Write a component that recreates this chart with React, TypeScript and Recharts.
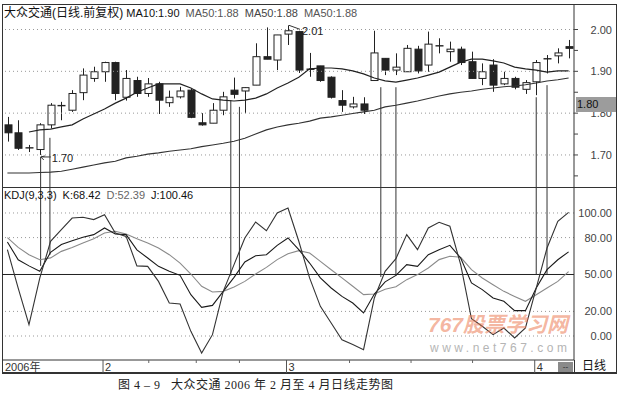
import React from 'react';
import { ComposedChart, Bar, Line, XAxis, YAxis, ReferenceLine, ReferenceDot } from 'recharts';

// trading days shown (Jan 13 – Apr 6, 2006)
const dates = [
  '2006-01-13', '2006-01-16', '2006-01-17', '2006-01-18', '2006-01-19', '2006-01-20', '2006-01-23', '2006-01-24', '2006-01-25',
  '2006-02-06', '2006-02-07', '2006-02-08', '2006-02-09', '2006-02-10', '2006-02-13', '2006-02-14', '2006-02-15', '2006-02-16',
  '2006-02-17', '2006-02-20', '2006-02-21', '2006-02-22', '2006-02-23', '2006-02-24', '2006-02-27', '2006-02-28',
  '2006-03-01', '2006-03-02', '2006-03-03', '2006-03-06', '2006-03-07', '2006-03-08', '2006-03-09', '2006-03-10', '2006-03-13',
  '2006-03-14', '2006-03-15', '2006-03-16', '2006-03-17', '2006-03-20', '2006-03-21', '2006-03-22', '2006-03-23', '2006-03-24',
  '2006-03-27', '2006-03-28', '2006-03-29', '2006-03-30', '2006-03-31',
  '2006-04-03', '2006-04-04', '2006-04-05', '2006-04-06',
];

const opens = [
  1.772, 1.753, 1.716, 1.713, 1.772, 1.817, 1.807, 1.849, 1.883, 1.899, 1.921, 1.838, 1.878, 1.847, 1.870, 1.825, 1.839, 1.855,
  1.777, 1.776, 1.807, 1.855, 1.853, 1.867, 1.935, 1.927, 1.989, 1.995, 1.904, 1.913, 1.886, 1.830, 1.815, 1.822, 1.878, 1.931,
  1.903, 1.899, 1.953, 1.915, 1.960, 1.947, 1.953, 1.923, 1.883, 1.915, 1.870, 1.883, 1.857, 1.875, 1.928, 1.937, 1.959,
];
const highs = [
  1.791, 1.783, 1.724, 1.776, 1.824, 1.827, 1.855, 1.907, 1.911, 1.923, 1.923, 1.903, 1.887, 1.884, 1.875, 1.854, 1.863, 1.859,
  1.800, 1.824, 1.851, 1.885, 1.862, 1.967, 2.005, 1.987, 2.010, 1.997, 1.944, 1.913, 1.888, 1.855, 1.839, 1.838, 1.997, 1.931,
  1.943, 1.963, 1.961, 1.995, 1.979, 1.971, 1.959, 1.947, 1.919, 1.929, 1.899, 1.887, 1.879, 1.927, 1.939, 1.955, 1.975,
];
const lows = [
  1.732, 1.712, 1.707, 1.700, 1.764, 1.783, 1.803, 1.831, 1.875, 1.875, 1.831, 1.830, 1.839, 1.839, 1.798, 1.815, 1.835, 1.788,
  1.770, 1.776, 1.795, 1.835, 1.800, 1.867, 1.929, 1.903, 1.963, 1.896, 1.887, 1.875, 1.835, 1.803, 1.811, 1.798, 1.878, 1.891,
  1.891, 1.899, 1.895, 1.899, 1.943, 1.923, 1.915, 1.883, 1.867, 1.851, 1.867, 1.857, 1.846, 1.843, 1.895, 1.919, 1.931,
];
const closes = [
  1.753, 1.716, 1.717, 1.772, 1.819, 1.818, 1.847, 1.891, 1.899, 1.921, 1.847, 1.883, 1.847, 1.870, 1.831, 1.838, 1.853, 1.790,
  1.772, 1.807, 1.839, 1.845, 1.861, 1.935, 1.929, 1.987, 1.997, 1.903, 1.905, 1.878, 1.838, 1.819, 1.822, 1.807, 1.944, 1.903,
  1.910, 1.955, 1.901, 1.965, 1.961, 1.953, 1.921, 1.883, 1.899, 1.867, 1.883, 1.862, 1.873, 1.921, 1.930, 1.944, 1.955,
];
const ma10 = [
  null, null, 1.755, 1.760, 1.762, 1.767, 1.772, 1.786, 1.798, 1.810, 1.824, 1.836, 1.850, 1.860, 1.870, 1.870, 1.870, 1.860,
  1.846, 1.834, 1.831, 1.829, 1.831, 1.836, 1.846, 1.860, 1.872, 1.886, 1.906, 1.908, 1.908, 1.906, 1.901, 1.894, 1.884, 1.877,
  1.874, 1.879, 1.884, 1.891, 1.898, 1.910, 1.922, 1.929, 1.929, 1.925, 1.920, 1.910, 1.906, 1.903, 1.898, 1.901, 1.901,
];
const ma50 = [
  1.657, 1.657, 1.657, 1.658, 1.659, 1.661, 1.666, 1.671, 1.676, 1.681, 1.685, 1.693, 1.697, 1.702, 1.705, 1.709, 1.712, 1.715,
  1.720, 1.724, 1.728, 1.733, 1.740, 1.750, 1.760, 1.767, 1.772, 1.776, 1.781, 1.788, 1.791, 1.795, 1.799, 1.803, 1.807, 1.815,
  1.819, 1.824, 1.829, 1.835, 1.841, 1.846, 1.850, 1.853, 1.857, 1.860, 1.863, 1.865, 1.868, 1.872, 1.877, 1.880, 1.884,
];

const kLine = [
  76.4, 62, 57, 52.6, 68, 74.3, 77.5, 80.2, 82.4, 87.8, 82.9, 82.4, 70, 63.4, 56.6, 52.6, 49.3, 33.6,
  23.3, 24.9, 36.3, 47.7, 60.2, 65.3, 66.1, 73.7, 79.7, 70.2, 59.3, 47.2, 39, 32.2, 26.8, 18.7, 34.1, 44,
  49.3, 58, 56.6, 66.1, 70.2, 73.7, 63.4, 43.1, 37.7, 30.9, 28.2, 20.6, 20.6, 39, 53.9, 62, 68.42,
];
const dLine = [
  80, 72, 66, 62, 63.5, 68.8, 72, 75.6, 79.1, 83.7, 85.1, 82.9, 79, 75.6, 71.5, 66.1, 59.3, 50.4,
  40.4, 35.8, 36.3, 39.8, 44.4, 50.4, 55.8, 62.1, 66.9, 69.4, 67.5, 60.7, 53.9, 47.2, 40.4, 33.6, 34.1, 38,
  40.1, 45.8, 49.9, 55.3, 62.1, 64.8, 64, 53.9, 47.2, 41.7, 36.3, 32.2, 28.2, 33.6, 39, 44.4, 52.39,
];
const jLine = [
  70.2, 39, 9.2, 47, 77, 86.4, 95.9, 96.5, 94.6, 98.6, 83.7, 81, 57, 56.6, 44.4, 26.8, 26, 3.8,
  -13.8, 1.1, 36.3, 58, 79.7, 92.7, 85.6, 100, 104, 77, 47.2, 24.1, 10.6, -3, -7, -11.1, 30.9, 52.6,
  62.9, 82.4, 70.2, 87.8, 92.4, 89.2, 58, 14, 7.9, 1.1, 6.5, -1.6, 6.5, 39, 71.5, 93.2, 100.46,
];

// hand-drawn cross marks (index position, price where the line starts, KDJ value where it ends)
const crossAt = [3.08, 3.94, 20.7, 21.5, 34.6, 36.0, 49.0, 50.0];
const crossPrice = [1.695, 1.741, 1.831, 1.815, 1.862, 1.862, 1.838, 1.867];
const crossKdj = [57, 66, 49, 50, 48, 49, 50, 50];

const priceTicks = [1.65, 1.7, 1.75, 1.8, 1.85, 1.9, 1.95, 2.0];
const priceGrid = [1.7, 1.8, 1.9, 2.0];
const kdjTicks = [0, 20, 50, 80, 100];
const kdjGrid = [0, 20, 80, 100];
const minorDateTicks = [13.1, 17.5, 21.5, 31.7, 37.4, 43.1];

const PRICE_MIN = 1.6234;
const PRICE_MAX = 2.0586;
const KDJ_MIN = -19.5;
const KDJ_MAX = 120.3;
const CHART_W = 613;
const AXIS_W = 41;
const PLOT_W = CHART_W - AXIS_W;

const FONT = '"Liberation Sans", Arial, "Noto Sans CJK SC", sans-serif';

const priceData = dates.map((date, i) => ({
  i, date,
  open: opens[i], high: highs[i], low: lows[i], close: closes[i],
  range: [lows[i], highs[i]],
  ma10: ma10[i], ma50: ma50[i],
}));

const kdjData = dates.map((date, i) => ({ i, date, k: kLine[i], d: dLine[i], j: jLine[i] }));

// month starts for the date strip
const monthStarts = dates.map((d, i) => i).filter(i => i === 0 || dates[i].slice(5, 7) !== dates[i - 1].slice(5, 7));
const monthLabel = (i: number) => i === 0 ? '2006年' : String(Number(dates[i].slice(5, 7)));

const Candle = (props: any) => {
  const { x, y, width, height, payload } = props;
  if (payload == null || height == null) return null;
  const { open, close, high, low } = payload;
  const top = Math.min(y, y + height);
  const h = Math.abs(height);
  const py = (v: number) => top + ((high - v) / (high - low)) * h;
  const cx = Math.round(x + width / 2) + 0.5;
  const bTop = py(Math.max(open, close));
  const bBot = py(Math.min(open, close));
  const bw = 7;
  const up = close >= open;
  return (
    <g>
      <line x1={cx} x2={cx} y1={top} y2={top + h} stroke="#222" strokeWidth={1} />
      {bBot - bTop < 1.5 ? (
        <line x1={cx - bw / 2 - 0.5} x2={cx + bw / 2 + 0.5} y1={bTop} y2={bTop} stroke="#222" strokeWidth={1.4} />
      ) : (
        <rect x={cx - bw / 2} y={bTop} width={bw} height={bBot - bTop} fill={up ? '#fff' : '#222'} stroke="#222" strokeWidth={1} />
      )}
    </g>
  );
};

const PriceTick = (props: any) => {
  const { y, payload } = props;
  const v = payload.value;
  const major = Math.abs(v * 10 - Math.round(v * 10)) < 1e-6;
  return (
    <g>
      <line x1={PLOT_W} x2={PLOT_W + 4} y1={y} y2={y} stroke="#444" />
      {major && (
        <text x={PLOT_W + 38} y={y + 4} textAnchor="end" fontSize={11} fill="#444" fontFamily={FONT}>{v.toFixed(2)}</text>
      )}
    </g>
  );
};

const KdjTick = (props: any) => {
  const { y, payload } = props;
  return (
    <text x={PLOT_W + 38} y={y + 4} textAnchor="end" fontSize={11} fill="#444" fontFamily={FONT}>{payload.value.toFixed(2)}</text>
  );
};

const DateTick = (props: any) => {
  const { x, payload } = props;
  const v = payload.value;
  const base = 172;
  if (!monthStarts.includes(v)) {
    return <line x1={x} x2={x} y1={base} y2={base + 3} stroke="#666" />;
  }
  if (v === 0) {
    return <text x={3} y={base + 11} fontSize={11} fill="#333" fontFamily={FONT}>{monthLabel(v)}</text>;
  }
  return (
    <g>
      <line x1={x - 1.5} x2={x - 1.5} y1={base} y2={base + 13} stroke="#555" />
      <text x={x + 0.5} y={base + 11} fontSize={11} fill="#333" fontFamily={FONT}>{monthLabel(v)}</text>
    </g>
  );
};

const HighMark = (props: any) => {
  const { cx, cy } = props;
  return (
    <g>
      <line x1={cx + 1} y1={cy} x2={cx + 12} y2={cy + 4} stroke="#333" />
      <text x={cx + 14} y={cy + 10} fontSize={11} fill="#222" fontFamily={FONT}>2.01</text>
    </g>
  );
};

const LowMark = (props: any) => {
  const { cx, cy } = props;
  return (
    <g>
      <path d={`M${cx + 1},${cy + 2} L${cx + 5},${cy + 1} M${cx + 1},${cy + 2} L${cx + 4},${cy + 5} M${cx + 1},${cy + 2} L${cx + 11},${cy + 2}`} stroke="#333" fill="none" />
      <text x={cx + 12} y={cy + 7} fontSize={11} fill="#222" fontFamily={FONT}>1.70</text>
    </g>
  );
};

const App: React.FC = () => {
  return (
    <div style={{ position: 'absolute', left: 0, top: 0, width: 620, height: 412, background: '#fff', fontFamily: FONT }}>
      {/* outer frame */}
      <div style={{ position: 'absolute', left: 2, top: 4, width: 615, height: 370, border: '1px solid #333', borderBottom: '2px solid #333', boxSizing: 'border-box' }} />
      <div style={{ position: 'absolute', left: 2, top: 187, width: 615, height: 1, background: '#333' }} />

      <div style={{ position: 'absolute', left: 2, top: 5 }}>
        <ComposedChart width={CHART_W} height={182} data={priceData} margin={{ top: 0, right: 0, bottom: 0, left: 0 }}>
          <XAxis xAxisId="cat" dataKey="date" type="category" hide />
          <XAxis xAxisId="num" dataKey="i" type="number" domain={[-0.5, 52.5]} hide allowDataOverflow />
          <YAxis
            orientation="right" width={AXIS_W} domain={[PRICE_MIN, PRICE_MAX]} ticks={priceTicks} interval={0}
            tick={PriceTick} tickLine={false} axisLine={{ stroke: '#333' }} allowDataOverflow
          />
          {priceGrid.map(v => (
            <ReferenceLine key={v} xAxisId="num" y={v} stroke="#999" strokeDasharray="1 3" />
          ))}
          {crossAt.map((x, n) => (
            <ReferenceLine key={'c' + n} xAxisId="num" segment={[{ x, y: crossPrice[n] }, { x, y: PRICE_MIN }]} stroke="#333" />
          ))}
          <Bar xAxisId="cat" dataKey="range" barSize={7} isAnimationActive={false} shape={(p: any) => <Candle {...p} />} />
          <Line xAxisId="num" dataKey="ma10" stroke="#222" strokeWidth={1.2} dot={false} isAnimationActive={false} />
          <Line xAxisId="num" dataKey="ma50" stroke="#333" strokeWidth={1.1} dot={false} isAnimationActive={false} />
          <ReferenceDot xAxisId="num" x={26} y={2.01} r={1} fill="none" stroke="none" shape={(p: any) => <HighMark {...p} />} />
          <ReferenceDot xAxisId="num" x={3} y={1.70} r={1} fill="none" stroke="none" shape={(p: any) => <LowMark {...p} />} />
        </ComposedChart>
      </div>

      <div style={{ position: 'absolute', left: 2, top: 188 }}>
        <ComposedChart width={CHART_W} height={185} data={kdjData} margin={{ top: 0, right: 0, bottom: 0, left: 0 }}>
          <XAxis
            dataKey="i" type="number" domain={[-0.5, 52.5]} allowDataOverflow height={13}
            ticks={[...monthStarts, ...minorDateTicks]} interval={0} tick={DateTick} tickLine={false} axisLine={{ stroke: '#333' }}
          />
          <YAxis
            orientation="right" width={AXIS_W} domain={[KDJ_MIN, KDJ_MAX]} ticks={kdjTicks} interval={0}
            tick={KdjTick} tickLine={false} axisLine={{ stroke: '#333' }} allowDataOverflow
          />
          {kdjGrid.map(v => (
            <ReferenceLine key={v} y={v} stroke="#999" strokeDasharray="1 3" />
          ))}
          <ReferenceLine y={50} stroke="#222" />
          {crossAt.map((x, n) => (
            <ReferenceLine key={'c' + n} segment={[{ x, y: KDJ_MAX }, { x, y: crossKdj[n] }]} stroke="#333" />
          ))}
          <Line dataKey="d" stroke="#8a8a8a" strokeWidth={1.1} dot={false} isAnimationActive={false} />
          <Line dataKey="k" stroke="#1a1a1a" strokeWidth={1.1} dot={false} isAnimationActive={false} />
          <Line dataKey="j" stroke="#333" strokeWidth={1.1} dot={false} isAnimationActive={false} />
        </ComposedChart>
      </div>

      {/* titles */}
      <div style={{ position: 'absolute', left: 4, top: 6, fontSize: 11, lineHeight: '14px', whiteSpace: 'nowrap', color: '#111' }}>
        <span style={{ fontSize: 12 }}>大众交通(日线.前复权)</span>
        <span style={{ marginLeft: 3 }}>MA10:1.90</span>
        <span style={{ marginLeft: 6, color: '#555' }}>MA50:1.88</span>
        <span style={{ marginLeft: 6, color: '#444' }}>MA50:1.88</span>
        <span style={{ marginLeft: 6, color: '#555' }}>MA50:1.88</span>
      </div>
      <div style={{ position: 'absolute', left: 4, top: 189, fontSize: 11, lineHeight: '13px', whiteSpace: 'nowrap', color: '#111' }}>
        <span>KDJ(9,3,3)</span>
        <span style={{ marginLeft: 6 }}>K:68.42</span>
        <span style={{ marginLeft: 6, color: '#666' }}>D:52.39</span>
        <span style={{ marginLeft: 6 }}>J:100.46</span>
      </div>

      {/* current price marker */}
      <div style={{ position: 'absolute', left: 576, top: 97, width: 40, height: 15, background: '#9c9c9c', fontSize: 11, lineHeight: '15px', color: '#111', paddingLeft: 1, boxSizing: 'border-box' }}>1.80</div>

      {/* right end of date strip */}
      <div style={{ position: 'absolute', left: 574, top: 360, width: 1, height: 13, background: '#333' }} />
      <div style={{ position: 'absolute', left: 558, top: 362, width: 15, height: 10, background: '#8a8a8a', fontSize: 8, lineHeight: '9px', color: '#222', textAlign: 'center' }}>--</div>
      <div style={{ position: 'absolute', left: 582, top: 360, fontSize: 12, lineHeight: '13px', color: '#111' }}>日线</div>

      {/* watermark */}
      <div style={{ position: 'absolute', left: 428, top: 312, fontSize: 21, fontWeight: 'bold', fontStyle: 'italic', color: 'rgba(236,120,80,0.55)', whiteSpace: 'nowrap', lineHeight: '26px' }}>767股票学习网</div>
      <div style={{ position: 'absolute', left: 430, top: 341, fontSize: 12, letterSpacing: 3.5, color: '#b5b5b5', whiteSpace: 'nowrap', lineHeight: '14px' }}>www.net767.com</div>

      {/* caption */}
      <div style={{ position: 'absolute', left: 118, top: 378, fontSize: 12, lineHeight: '14px', color: '#222', whiteSpace: 'pre', letterSpacing: 0.5, fontFamily: '"Liberation Serif", "Noto Sans CJK SC", serif' }}>
        {'图 4 – 9   大众交通 2006 年 2 月至 4 月日线走势图'}
      </div>
    </div>
  );
};

export default App;
